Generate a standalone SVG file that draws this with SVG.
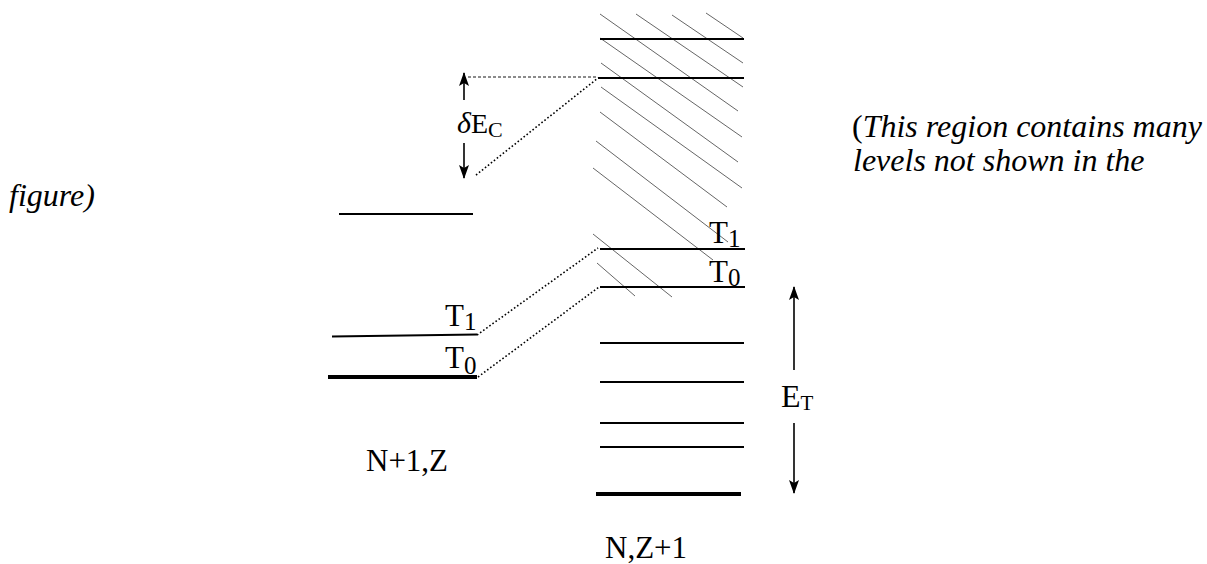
<svg xmlns="http://www.w3.org/2000/svg" width="1207" height="564" viewBox="0 0 1207 564">
<defs>
<style>
.lvl{stroke:#000;stroke-width:2;fill:none}
.thick{stroke:#000;stroke-width:4;fill:none}
.hatch{stroke:#666;stroke-width:1;fill:none}
.dot{stroke:#000;stroke-width:1.6;stroke-dasharray:1.6 2.2;fill:none}
.dash{stroke:#666;stroke-width:1.5;stroke-dasharray:3 2;fill:none}
.arr{stroke:#000;stroke-width:1.6;fill:none}
text{font-family:"Liberation Serif","Times New Roman",serif;fill:#000}
.lab{font-size:31px}
.sub{font-size:25px}
.it{font-style:italic;font-size:32px}
</style>
<marker id="ah" viewBox="0 0 14 10" refX="13" refY="5" markerWidth="14" markerHeight="10" markerUnits="userSpaceOnUse" orient="auto">
<path d="M0,0 L14,5 L0,10 L3,5 Z" fill="#000"/>
</marker>
</defs>
<g id="hatching">
<line class="hatch" x1="706" y1="13" x2="743" y2="38"/>
<line class="hatch" x1="672" y1="15" x2="743" y2="63"/>
<line class="hatch" x1="636" y1="14" x2="743" y2="87"/>
<line class="hatch" x1="600" y1="14" x2="738" y2="111"/>
<line class="hatch" x1="600" y1="38" x2="742" y2="137"/>
<line class="hatch" x1="601" y1="63" x2="738" y2="162"/>
<line class="hatch" x1="601" y1="87" x2="742" y2="188"/>
<line class="hatch" x1="600" y1="112" x2="727" y2="207"/>
<line class="hatch" x1="596" y1="141" x2="728" y2="242"/>
<line class="hatch" x1="593" y1="168" x2="713" y2="260"/>
<line class="hatch" x1="593" y1="234" x2="672" y2="297"/>
<line class="hatch" x1="597" y1="263" x2="635" y2="296"/>
</g>
<g id="levels-N1Z">
<line class="lvl" x1="339" y1="214" x2="473" y2="214"/>
<line class="lvl" x1="332" y1="336.5" x2="477" y2="334.5"/>
<line class="thick" x1="328" y1="377" x2="477" y2="377"/>
<text class="lab" x="445" y="326">T<tspan class="sub" dy="4">1</tspan></text>
<text class="lab" x="445" y="368">T<tspan class="sub" dy="6">0</tspan></text>
<text class="lab" x="366" y="471">N+1,Z</text>
</g>
<g id="levels-NZ1">
<line class="lvl" x1="600" y1="39" x2="744" y2="39"/>
<line class="lvl" x1="598" y1="78" x2="744" y2="78"/>
<line class="lvl" x1="600" y1="249" x2="745" y2="249"/>
<line class="lvl" x1="600" y1="287" x2="745" y2="287"/>
<line class="lvl" x1="600" y1="343" x2="744" y2="343"/>
<line class="lvl" x1="600" y1="382" x2="744" y2="382"/>
<line class="lvl" x1="600" y1="423" x2="744" y2="423"/>
<line class="lvl" x1="600" y1="447" x2="744" y2="447"/>
<line class="thick" x1="596" y1="494" x2="741" y2="494"/>
<text class="lab" x="709" y="243">T<tspan class="sub" dy="4">1</tspan></text>
<text class="lab" x="709" y="282">T<tspan class="sub" dy="4">0</tspan></text>
<text class="lab" x="605" y="558">N,Z+1</text>
</g>
<g id="connectors">
<line class="dash" x1="468" y1="77" x2="597" y2="77"/>
<line class="dot" x1="476" y1="175" x2="598" y2="78"/>
<line class="dot" x1="477" y1="335" x2="598" y2="248"/>
<line class="dot" x1="478" y1="377" x2="599" y2="287"/>
<line class="arr" x1="464" y1="100" x2="464" y2="73" marker-end="url(#ah)"/>
<line class="arr" x1="464" y1="143" x2="464" y2="178" marker-end="url(#ah)"/>
<line class="arr" x1="794" y1="370" x2="794" y2="287" marker-end="url(#ah)"/>
<line class="arr" x1="794" y1="423" x2="794" y2="493" marker-end="url(#ah)"/>
</g>
<g id="label-dEC">
<text x="457" y="133" style="font-size:28px"><tspan style="font-style:italic;font-size:30px">δ</tspan>E<tspan dy="4" style="font-size:22px">C</tspan></text>
</g>
<g id="label-ET">
<text x="781" y="407" style="font-size:32px">E<tspan dy="3" style="font-size:21px">T</tspan></text>
</g>
<g id="note">
<text x="852" y="137" style="font-size:32px">(<tspan class="it">This region contains many</tspan></text>
<text class="it" x="853" y="171">levels not shown in the</text>
<text class="it" x="9" y="206">figure)</text>
</g>
</svg>
